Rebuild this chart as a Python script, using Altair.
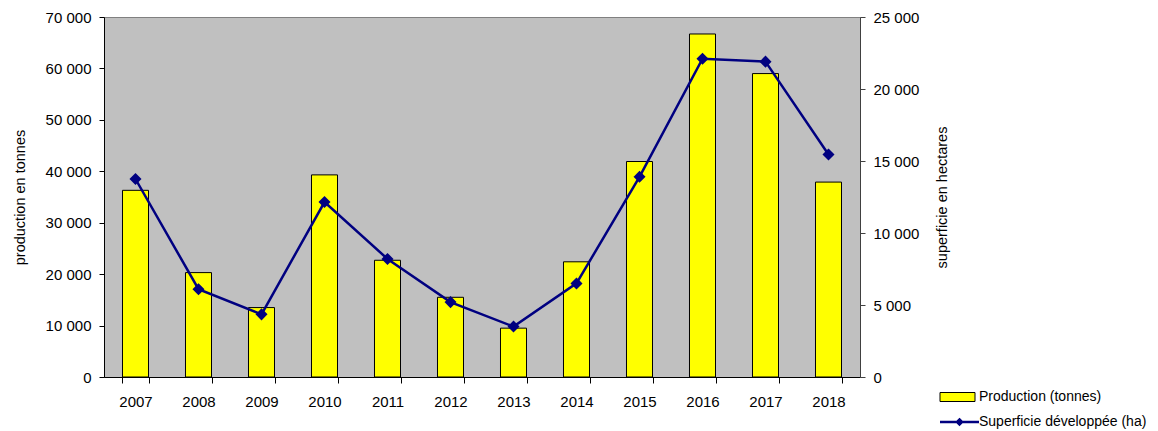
import altair as alt
import pandas as pd

years = ["2007", "2008", "2009", "2010", "2011", "2012", "2013", "2014", "2015", "2016", "2017", "2018"]
production = [36300, 20300, 13500, 39300, 22700, 15500, 9500, 22400, 41900, 66700, 59000, 37900]
superficie = [13750, 6100, 4350, 12150, 8200, 5200, 3500, 6500, 13900, 22100, 21900, 15450]
left_ticks = [0, 10000, 20000, 30000, 40000, 50000, 60000, 70000]
right_ticks = [0, 5000, 10000, 15000, 20000, 25000]
lab_prod = "Production (tonnes)"
lab_sup = "Superficie développée (ha)"

df = pd.DataFrame({
    "annee": years,
    "production": production,
    "superficie": superficie,
    "s1": [lab_prod] * len(years),
    "s2": [lab_sup] * len(years),
})

FONT = "Liberation Sans"
fmt = "replace(format(datum.value, ',d'), ',', ' ')"

xscale = alt.Scale(paddingInner=0.587, paddingOuter=0.2935)
xaxis = alt.Axis(title=None, labelAngle=0, tickBand="extent", tickSize=6,
                 labelPadding=11, labelFontSize=15, labelFont=FONT, labelColor="black",
                 domainColor="black", tickColor="black")

bars = alt.Chart(df).mark_bar(stroke="#000000", strokeWidth=1).encode(
    x=alt.X("annee:O", scale=xscale, axis=xaxis),
    y=alt.Y("production:Q",
            scale=alt.Scale(domain=[0, 70000], nice=False),
            axis=alt.Axis(title="production en tonnes", values=left_ticks, labelExpr=fmt,
                          grid=False, tickSize=5, labelPadding=8, labelFontSize=15,
                          labelFont=FONT, labelColor="black", titleFont=FONT,
                          titleFontSize=14.5, titleFontWeight="normal", titleColor="black",
                          titlePadding=17.5, domainColor="black", tickColor="black")),
    color=alt.Color("s1:N", scale=alt.Scale(domain=[lab_prod], range=["#FFFF00"]),
                    legend=alt.Legend(title=None, orient="none", legendX=846.5, legendY=373,
                                      symbolType="M-3.5,-0.9L3.5,-0.9L3.5,0.9L-3.5,0.9Z",
                                      symbolSize=100, symbolStrokeColor="#000000",
                                      symbolStrokeWidth=1, labelFont=FONT, labelFontSize=14,
                                      labelColor="black", labelOffset=14.5, padding=0,
                                      labelLimit=400)),
)

line = alt.Chart(df).mark_line(
    strokeWidth=2.5,
    point=alt.OverlayMarkDef(shape="diamond", filled=True, size=85, color="#000080", opacity=1),
).encode(
    x=alt.X("annee:O", scale=xscale, axis=xaxis),
    y=alt.Y("superficie:Q",
            scale=alt.Scale(domain=[0, 25000], nice=False),
            axis=alt.Axis(title="superficie en hectares", orient="right", values=right_ticks,
                          labelExpr=fmt, grid=False, tickSize=5, labelPadding=8,
                          labelFontSize=15, labelFont=FONT, labelColor="black",
                          titleFont=FONT, titleFontSize=14.5, titleFontWeight="normal",
                          titleColor="black", titlePadding=31, titleAngle=270,
                          domainColor="#404040", tickColor="#404040")),
    stroke=alt.Stroke("s2:N", scale=alt.Scale(domain=[lab_sup], range=["#000080"]),
                      legend=alt.Legend(title=None, orient="none", legendX=848.5, legendY=398,
                                        symbolType="M-3.9,0L3.9,0M0,-0.5L0.5,0L0,0.5L-0.5,0Z",
                                        symbolSize=100, symbolStrokeWidth=2.5,
                                        symbolFillColor="#000080",
                                        labelFont=FONT, labelFontSize=14,
                                        labelColor="black", labelOffset=12.5, padding=0,
                                        labelLimit=400)),
)

chart = alt.layer(bars, line).resolve_scale(
    y="independent", color="independent", stroke="independent"
).properties(
    width=756, height=360,
    autosize=alt.AutoSizeParams(type="none"),
    padding={"left": 96, "top": 9, "right": 290, "bottom": 56},
    background="white",
).configure_view(
    fill="#C0C0C0", stroke="#808080", strokeWidth=1
)

chart.save("out.html", embed_options={"renderer": "svg", "actions": False})
